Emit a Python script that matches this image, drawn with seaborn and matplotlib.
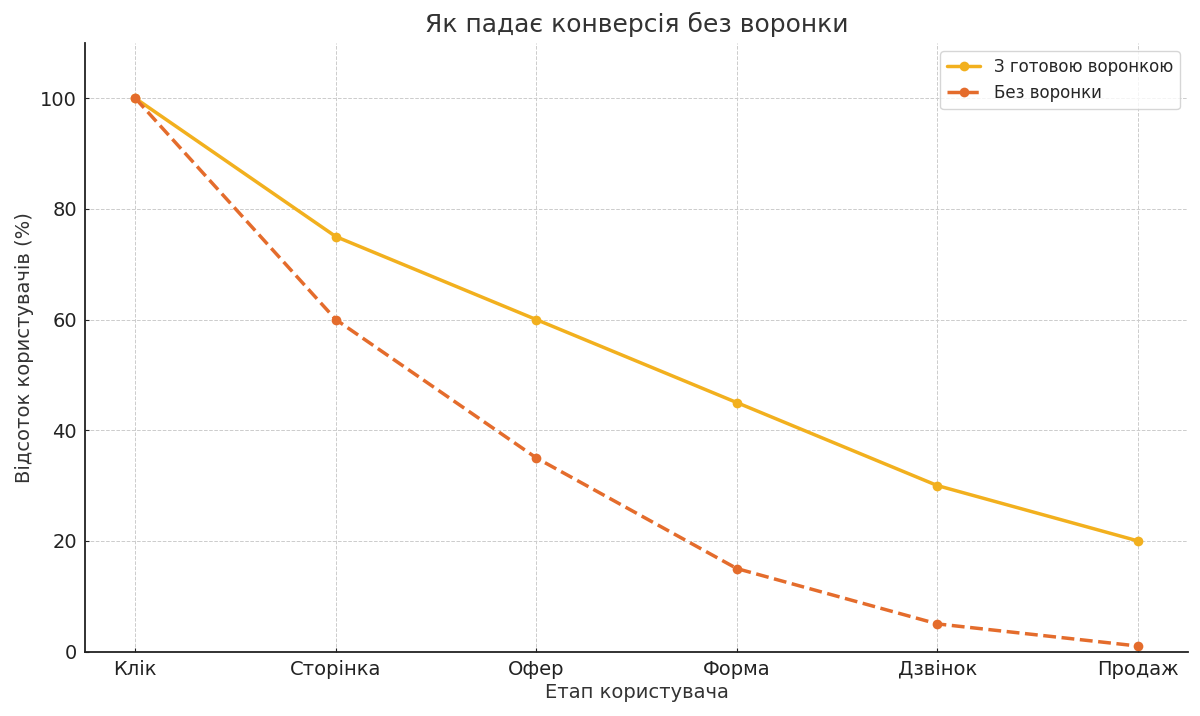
import seaborn as sns
import matplotlib.pyplot as plt
import pandas as pd

stages = ["Клік", "Сторінка", "Офер", "Форма", "Дзвінок", "Продаж"]
with_funnel = [100, 75, 60, 45, 30, 20]
without_funnel = [100, 60, 35, 15, 5, 1]

sns.set_style("whitegrid")
plt.rcParams['font.family'] = ['DejaVu Sans']

fig, ax = plt.subplots(figsize=(12, 7.16), dpi=100)

df1 = pd.DataFrame({"stage": stages, "value": with_funnel})
df2 = pd.DataFrame({"stage": stages, "value": without_funnel})

sns.lineplot(x="stage", y="value", data=df1, marker="o", color="#F2B01E",
             linewidth=2.5, markersize=7, markeredgewidth=0, label="З готовою воронкою", ax=ax, sort=False)
sns.lineplot(x="stage", y="value", data=df2, marker="o", color="#E46C2C",
             linewidth=2.5, markersize=7, markeredgewidth=0, label="Без воронки", ax=ax, sort=False)
ax.lines[1].set_linestyle("--")

ax.set_ylim(0, 110)
ax.set_yticks([0, 20, 40, 60, 80, 100])
ax.grid(True, linestyle="--", linewidth=0.7, color="#cccccc")
for s in ["top", "right"]:
    ax.spines[s].set_visible(False)
for s in ["left", "bottom"]:
    ax.spines[s].set_color("#222222")
    ax.spines[s].set_linewidth(1.3)

ax.set_title("Як падає конверсія без воронки", fontsize=18, color="#333333", pad=8)
ax.set_xlabel("Етап користувача", fontsize=14, color="#333333", labelpad=3)
ax.set_ylabel("Відсоток користувачів (%)", fontsize=14, color="#333333")
ax.tick_params(axis="both", labelsize=14, colors="#222222", length=3, direction="in",
               left=True, bottom=True, pad=6)
ax.legend(loc="upper right", fontsize=12, frameon=True)

plt.subplots_adjust(left=0.071, right=0.99, top=0.94, bottom=0.09)
plt.savefig("out.png")
